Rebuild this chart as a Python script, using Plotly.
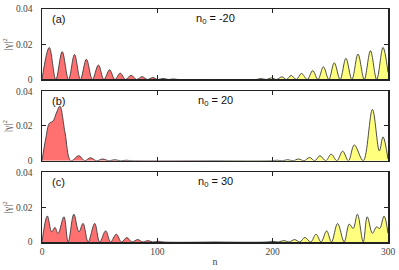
import plotly.graph_objects as go

# ---------------- data ----------------
# panel (a): n0 = -20
n_a_red = [0, 6.3, 12, 17.5, 23, 28.2, 33.3, 38.5, 43.7, 48.9, 53.7, 58.6, 63.2, 67.8,
           72.5, 77.3, 82, 86.8, 91.4, 96, 100.5, 105, 109.5, 114, 118, 150]
g_a_red = [0, .0182, 0, .0158, 0, .0142, 0, .0115, 0, .0082, 0, .0055, 0, .0036,
           0, .0024, 0, .0016, 0, .0011, 0, .0006, 0, .0003, 0, 0]
n_a_yel = [150, 185.5, 190, 194.5, 199, 203.5, 208, 212, 216, 220.5, 225, 230, 234.7,
           239.3, 244, 248.7, 253.4, 258.5, 263.5, 268.7, 274, 279.4, 284.8, 290.2, 295.7, 300]
g_a_yel = [0, 0, .0005, 0, .0009, 0, .0015, 0, .0023, 0, .0034, 0, .0050,
           0, .0072, 0, .0095, 0, .0120, 0, .0144, 0, .0163, 0, .0182, .004]

# panel (b): n0 = 20
n_b_red = [0, 3.4, 6.3, 9.5, 12.5, 15.5, 20, 25, 32, 37, 42, 47.3, 52.8, 58, 63, 68, 73, 78, 150]
g_b_red = [0, .0133, .0215, .0228, .0275, .0314, .016, 0, .0029, 0, .0017, 0, .0010, 0,
           .0006, 0, .0003, 0, 0]
n_b_yel = [150, 199.5, 204, 208.5, 213, 217.7, 222.4, 227.2, 232, 236.5, 241, 246, 250.8,
           255.7, 260.7, 265.7, 270.8, 278.5, 286.5, 292.5, 295.7, 300]
g_b_yel = [0, 0, .0003, 0, .0006, 0, .0010, 0, .0019, 0, .0029, 0, .0038,
           0, .0055, 0, .0091, 0, .0295, .0057, .0137, .001]

# panel (c): n0 = 30
n_c_red = [0, 4.6, 8.4, 11.2, 14, 19, 22.7, 27.6, 32, 35.6, 40, 45.7, 50, 55.2, 59.5,
           64.4, 69, 73.5, 78, 83, 87.5, 91.7, 96, 101, 105, 150]
g_c_red = [0, .0150, .0058, .0084, .0049, .0145, 0, .0160, .0058, .0107, 0, .0107, 0,
           .0064, 0, .0045, 0, .0026, 0, .0014, 0, .0008, 0, .0004, 0, 0]
n_c_yel = [150, 195, 200, 205, 209.6, 214.3, 219, 223.5, 228, 233, 237.6, 242, 246.8,
           251, 256.3, 262, 266.4, 269.8, 273.5, 278.5, 282, 286.5, 290, 292.8, 296.6, 300]
g_c_yel = [0, 0, .0004, 0, .0008, 0, .0014, 0, .0026, 0, .0045, 0, .0064,
           0, .0107, 0, .0103, .0078, .0160, 0, .0145, .0050, .0087, .0078, .0149, .005]

panel_labels = ["(a)", "(b)", "(c)"]
n0_labels = ["n<sub>0</sub> = -20", "n<sub>0</sub> = 20", "n<sub>0</sub> = 30"]
x_ticks = [0, 100, 200, 300]
y_ticks = [0, 0.02, 0.04]
y_ticktext = ["0", "0.02", "0.04"]

# ---------------- figure ----------------
RED = "rgb(255,112,112)"
YEL = "rgb(255,255,125)"
LINE = "#3a3a3a"
SERIF = "Liberation Serif"
SANS = "Liberation Sans"

panels = [(n_a_red, g_a_red, n_a_yel, g_a_yel),
          (n_b_red, g_b_red, n_b_yel, g_b_yel),
          (n_c_red, g_c_red, n_c_yel, g_c_yel)]

domains = [[0.6975, 1.0], [0.3487, 0.6471], [0.0, 0.2983]]

fig = go.Figure()
layout = dict(width=399, height=270, margin=dict(l=42, r=10, t=4, b=28),
              paper_bgcolor="white", plot_bgcolor="white", showlegend=False,
              annotations=[])

for i, (nr, gr, ny, gy) in enumerate(panels):
    k = "" if i == 0 else str(i + 1)
    xa, ya = "x" + k, "y" + k
    for nn, gg, col in [(nr, gr, RED), (ny, gy, YEL)]:
        fig.add_trace(go.Scatter(x=nn, y=gg, xaxis=xa, yaxis=ya, mode="lines",
                                 line=dict(color=LINE, width=0.9, shape="spline", smoothing=1.0),
                                 fill="tozeroy", fillcolor=col, hoverinfo="skip"))
    layout["xaxis" + k] = dict(domain=[0, 1], anchor=ya, range=[0, 300],
                               tickvals=x_ticks, showticklabels=(i == 2),
                               ticks="inside", ticklen=4, tickwidth=1, tickcolor="#222",
                               showline=True, mirror="ticks", linecolor="#222", linewidth=1.5,
                               showgrid=False, zeroline=False,
                               tickfont=dict(family=SERIF, size=9.5, color="#444"))
    layout["yaxis" + k] = dict(domain=domains[i], anchor=xa, range=[0, 0.04],
                               tickvals=y_ticks, ticktext=y_ticktext,
                               ticks="inside", ticklen=4, tickwidth=1, tickcolor="#222",
                               showline=True, mirror="ticks", linecolor="#222", linewidth=1.5,
                               showgrid=False, zeroline=False, ticklabelstandoff=6,
                               tickfont=dict(family=SERIF, size=9.5, color="#444"),
                               title=dict(text="|γ|<sup>2</sup>", standoff=2,
                                          font=dict(family=SERIF, size=10, color="#555")))
    layout["annotations"].append(dict(text=panel_labels[i], xref=xa + " domain", yref=ya + " domain",
                                      x=0.022, y=0.86, xanchor="left", yanchor="middle",
                                      showarrow=False, font=dict(family=SANS, size=11, color="#111")))
    layout["annotations"].append(dict(text=n0_labels[i], xref=xa + " domain", yref=ya + " domain",
                                      x=0.5, y=0.86, xanchor="center", yanchor="middle",
                                      showarrow=False, font=dict(family=SANS, size=11, color="#111")))

layout["xaxis3"]["title"] = dict(text="n", standoff=2, font=dict(family=SERIF, size=10, color="#444"))
fig.update_layout(**layout)
fig.write_html("out.html", config={"displayModeBar": False, "staticPlot": True},
               post_script="document.body.style.margin='0';document.body.style.overflow='hidden';")
